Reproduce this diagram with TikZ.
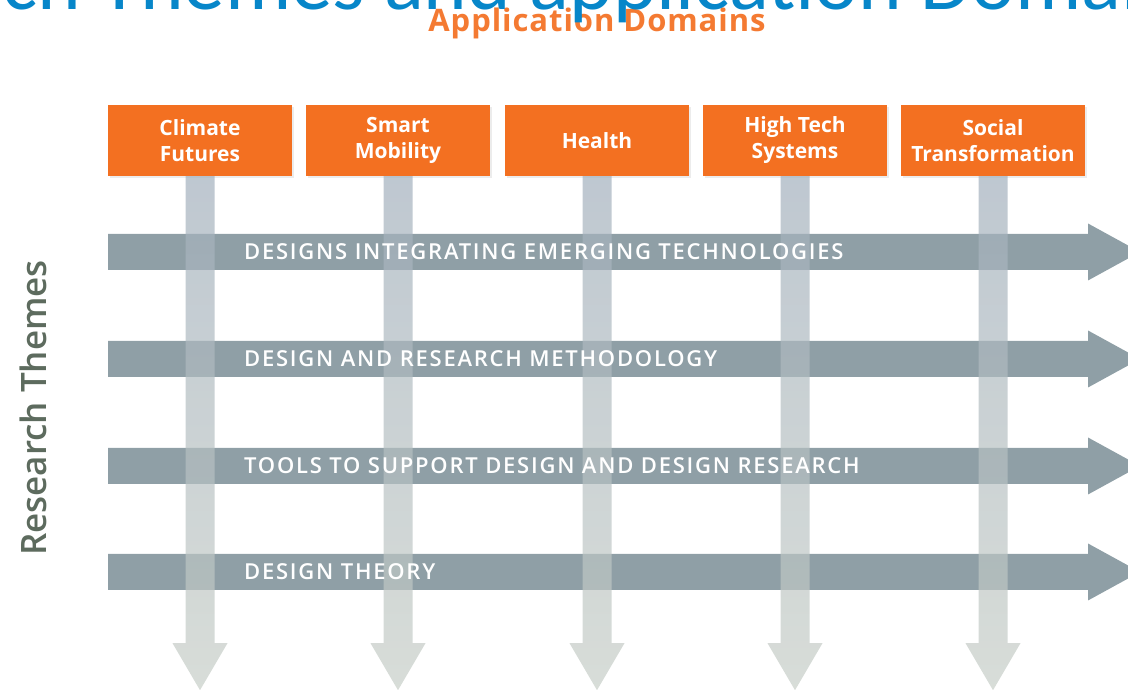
\documentclass[tikz,border=0pt]{standalone}
\usepackage{fontspec}
\setmainfont{Open Sans}
\newfontfamily\titlefont{Carlito}
\newfontfamily\headfont{Open Sans Semibold}
\newfontfamily\appsfont[LetterSpace=3]{Open Sans}
\newfontfamily\themefont[LetterSpace=8]{Open Sans Semibold}
\usetikzlibrary{shadows}

\definecolor{domorange}{HTML}{F37021}
\definecolor{headorange}{HTML}{F47A32}
\definecolor{titleblue}{HTML}{0786C9}
\definecolor{themegrey}{HTML}{8F9FA6}
\definecolor{sidegrey}{HTML}{5D6B5E}
\definecolor{coltop}{RGB}{163,176,189}
\definecolor{colbot}{RGB}{199,206,199}

\begin{document}
\begin{tikzpicture}[x=1pt,y=1pt]
    \tikzstyle{appbox}=[fill=domorange, text=white, minimum width=184pt, minimum height=71pt, inner sep=0pt, align=center, font=\bfseries\fontsize{21}{26}\selectfont, drop shadow={shadow xshift=1.5pt, shadow yshift=-2pt, opacity=.15}]
    \tikzstyle{rowbar}=[fill=themegrey]
    \tikzstyle{colarrow}=[top color=coltop, bottom color=colbot, opacity=.7]
    \tikzstyle{theme}=[anchor=west, text=white, inner sep=0pt, font=\themefont\fontsize{22}{22}\selectfont]
    \useasboundingbox (0,0) rectangle (1128,690);
    \clip (0,0) rectangle (1128,690);

    % titles
    \node[text=headorange, font=\appsfont\bfseries\fontsize{31}{31}\selectfont, anchor=base] (apps) at (597,658) {Application Domains};
    \node[text=titleblue, font=\titlefont\fontsize{83}{83}\selectfont, anchor=base west, inner sep=0pt] (title) at (-224,680) {Research Themes and application Domains};
    \node[text=sidegrey, font=\headfont\fontsize{35}{35}\selectfont, rotate=90] (research) at (33,282) {Research Themes};

    % application domains
    \node[appbox] (clim) at (200,549.5) {Climate\\Futures};
    \node[appbox] (mob) at (398,549.5) {Smart\\Mobility};
    \node[appbox] (hlth) at (597,549.5) {Health};
    \node[appbox] (htech) at (795,549.5) {High Tech\\Systems};
    \node[appbox] (soc) at (993,549.5) {Social\\Transformation};

    % research themes
    \foreach \y/\n in {438/row1, 331/row2, 224/row3, 118/row4}
        \fill[rowbar] (108,\y-18) coordinate (\n) -- (1088,\y-18) -- (1088,\y-28.5) -- (1140,\y) -- (1088,\y+28.5) -- (1088,\y+18) -- (108,\y+18) -- cycle;

    \foreach \n in {clim,mob,hlth,htech,soc}
        \shade[colarrow] ([xshift=-14.5pt]\n.south) -- ++(0,-467) -- ++(-13,0) -- ++(27.5,-47) -- ++(27.5,47) -- ++(-13,0) -- ++(0,467) -- cycle;

    \node[theme] (t1) at ([shift={(136,18)}]row1) {DESIGNS INTEGRATING EMERGING TECHNOLOGIES};
    \node[theme] (t2) at ([shift={(136,18)}]row2) {DESIGN AND RESEARCH METHODOLOGY};
    \node[theme] (t3) at ([shift={(136,18)}]row3) {TOOLS TO SUPPORT DESIGN AND DESIGN RESEARCH};
    \node[theme] (t4) at ([shift={(136,18)}]row4) {DESIGN THEORY};
\end{tikzpicture}
\end{document}
